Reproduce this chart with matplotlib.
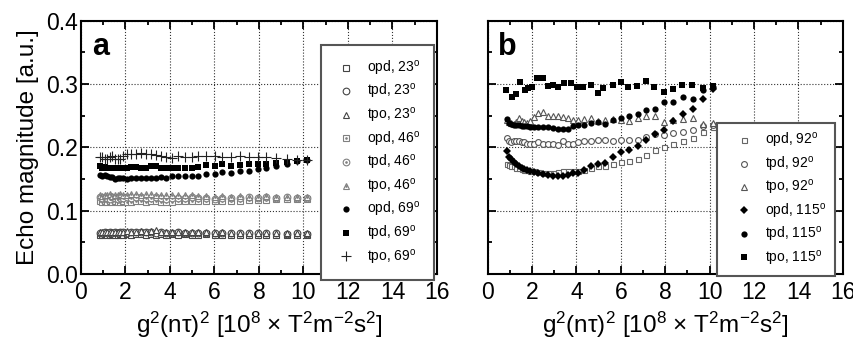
import numpy as np
import matplotlib
matplotlib.use('Agg')
import matplotlib.pyplot as plt
from matplotlib.ticker import MultipleLocator, FormatStrFormatter
from matplotlib.legend_handler import HandlerTuple

plt.rcParams['font.family'] = ['Liberation Sans', 'DejaVu Sans']
plt.rcParams['mathtext.fontset'] = 'custom'
plt.rcParams['mathtext.rm'] = 'Liberation Sans'
plt.rcParams['mathtext.it'] = 'Liberation Sans:italic'

# common x grid  g^2(n tau)^2  [1e8 T^2 m^-2 s^2]
x = [0.85, 0.96, 1.07, 1.18, 1.30, 1.41, 1.53, 1.65, 1.77, 1.91, 2.08, 2.27,
     2.48, 2.70, 2.94, 3.15, 3.38, 3.60, 3.84, 4.07, 4.34, 4.66, 4.97, 5.27,
     5.64, 6.01, 6.36, 6.76, 7.13, 7.53, 7.94, 8.33, 8.78, 9.24, 9.70, 10.15]

# panel a
opd_23 = [0.062, 0.061, 0.063, 0.062, 0.061, 0.063, 0.062, 0.062, 0.063, 0.062, 0.063, 0.062,
          0.063, 0.063, 0.062, 0.063, 0.062, 0.063, 0.062, 0.063, 0.062, 0.063, 0.062, 0.062,
          0.063, 0.062, 0.061, 0.062, 0.062, 0.061, 0.062, 0.062, 0.061, 0.062, 0.062, 0.062]
tpd_23 = [0.065, 0.064, 0.066, 0.065, 0.066, 0.065, 0.066, 0.065, 0.066, 0.066, 0.065, 0.066,
          0.067, 0.066, 0.066, 0.066, 0.065, 0.066, 0.065, 0.065, 0.066, 0.065, 0.065, 0.065,
          0.064, 0.065, 0.064, 0.064, 0.065, 0.064, 0.064, 0.064, 0.064, 0.063, 0.064, 0.063]
tpo_23 = [0.066, 0.066, 0.067, 0.066, 0.067, 0.066, 0.067, 0.066, 0.067, 0.067, 0.068, 0.067,
          0.067, 0.068, 0.067, 0.068, 0.069, 0.067, 0.067, 0.067, 0.066, 0.067, 0.067, 0.066,
          0.066, 0.065, 0.066, 0.065, 0.065, 0.065, 0.065, 0.065, 0.065, 0.064, 0.065, 0.064]
opd_46 = [0.115, 0.114, 0.116, 0.114, 0.115, 0.113, 0.115, 0.114, 0.113, 0.115, 0.114, 0.114,
          0.116, 0.115, 0.114, 0.116, 0.115, 0.114, 0.113, 0.114, 0.115, 0.115, 0.116, 0.116,
          0.116, 0.116, 0.115, 0.116, 0.116, 0.117, 0.117, 0.117, 0.118, 0.118, 0.118, 0.119]
tpd_46 = [0.121, 0.120, 0.121, 0.120, 0.119, 0.121, 0.120, 0.119, 0.120, 0.120, 0.121, 0.120,
          0.121, 0.121, 0.120, 0.120, 0.121, 0.120, 0.119, 0.120, 0.120, 0.120, 0.121, 0.120,
          0.120, 0.119, 0.120, 0.120, 0.120, 0.121, 0.120, 0.121, 0.120, 0.121, 0.120, 0.120]
tpo_46 = [0.124, 0.123, 0.125, 0.124, 0.126, 0.123, 0.125, 0.124, 0.126, 0.124, 0.125, 0.126,
          0.127, 0.125, 0.126, 0.127, 0.125, 0.124, 0.124, 0.125, 0.124, 0.125, 0.124, 0.123,
          0.123, 0.122, 0.123, 0.122, 0.123, 0.122, 0.122, 0.123, 0.122, 0.122, 0.121, 0.122]
opd_69 = [0.156, 0.155, 0.156, 0.154, 0.153, 0.153, 0.150, 0.151, 0.151, 0.152, 0.150, 0.151,
          0.151, 0.152, 0.152, 0.152, 0.152, 0.153, 0.152, 0.154, 0.154, 0.155, 0.154, 0.154,
          0.158, 0.158, 0.161, 0.160, 0.163, 0.163, 0.166, 0.167, 0.171, 0.174, 0.178, 0.180]
tpd_69 = [0.171, 0.168, 0.169, 0.167, 0.168, 0.168, 0.168, 0.168, 0.168, 0.168, 0.168, 0.169,
          0.169, 0.167, 0.168, 0.170, 0.170, 0.168, 0.167, 0.167, 0.168, 0.168, 0.168, 0.169,
          0.172, 0.171, 0.174, 0.171, 0.172, 0.174, 0.173, 0.174, 0.176, 0.177, 0.179, 0.180]
tpo_69 = [0.185, 0.185, 0.182, 0.182, 0.185, 0.186, 0.181, 0.181, 0.182, 0.187, 0.189, 0.190,
          0.190, 0.191, 0.190, 0.190, 0.188, 0.187, 0.185, 0.183, 0.186, 0.184, 0.185, 0.186,
          0.186, 0.187, 0.184, 0.185, 0.186, 0.184, 0.184, 0.185, 0.183, 0.182, 0.180, 0.180]

# panel b
opd_92 = [0.174, 0.172, 0.171, 0.170, 0.168, 0.167, 0.166, 0.165, 0.164, 0.163, 0.162, 0.161,
          0.160, 0.160, 0.160, 0.161, 0.162, 0.163, 0.162, 0.162, 0.165, 0.168, 0.170, 0.171,
          0.173, 0.177, 0.179, 0.182, 0.188, 0.196, 0.200, 0.205, 0.210, 0.214, 0.224, 0.232]
tpd_92 = [0.214, 0.210, 0.209, 0.210, 0.210, 0.210, 0.208, 0.208, 0.206, 0.206, 0.206, 0.208,
          0.206, 0.205, 0.206, 0.204, 0.210, 0.206, 0.206, 0.209, 0.210, 0.210, 0.211, 0.211,
          0.210, 0.211, 0.212, 0.212, 0.217, 0.221, 0.219, 0.222, 0.225, 0.228, 0.233, 0.236]
tpo_92 = [0.243, 0.240, 0.238, 0.237, 0.240, 0.247, 0.242, 0.240, 0.238, 0.242, 0.248, 0.254,
          0.256, 0.250, 0.249, 0.249, 0.248, 0.247, 0.243, 0.243, 0.245, 0.247, 0.241, 0.243,
          0.244, 0.243, 0.242, 0.247, 0.249, 0.249, 0.240, 0.243, 0.245, 0.246, 0.237, 0.239]
opd_115 = [0.195, 0.184, 0.181, 0.177, 0.174, 0.171, 0.168, 0.166, 0.164, 0.163, 0.161, 0.159,
           0.158, 0.157, 0.154, 0.154, 0.155, 0.156, 0.160, 0.160, 0.165, 0.170, 0.173, 0.176,
           0.184, 0.192, 0.196, 0.202, 0.212, 0.221, 0.228, 0.241, 0.252, 0.260, 0.276, 0.292]
tpd_115 = [0.244, 0.238, 0.237, 0.236, 0.235, 0.235, 0.234, 0.233, 0.233, 0.232, 0.232, 0.232,
           0.232, 0.232, 0.231, 0.229, 0.229, 0.229, 0.234, 0.235, 0.236, 0.238, 0.240, 0.237,
           0.243, 0.247, 0.250, 0.253, 0.259, 0.260, 0.271, 0.271, 0.280, 0.276, 0.290, 0.295]
x_tpo_115 = [0.82, 1.08, 1.27, 1.45, 1.68, 1.83, 1.98, 2.24, 2.48, 2.70, 2.93, 3.15, 3.44,
             3.74, 4.04, 4.28, 4.64, 4.98, 5.21, 5.66, 5.99, 6.33, 6.71, 7.13, 7.51, 7.94,
             8.33, 8.77, 9.19, 9.68, 10.14]
tpo_115 = [0.290, 0.279, 0.284, 0.303, 0.291, 0.293, 0.296, 0.310, 0.309, 0.297, 0.298, 0.296,
           0.302, 0.301, 0.295, 0.295, 0.298, 0.286, 0.293, 0.298, 0.303, 0.295, 0.297, 0.305,
           0.296, 0.288, 0.292, 0.298, 0.298, 0.293, 0.297]

fig = plt.figure(figsize=(8.54, 3.49), dpi=100)
ax_a = fig.add_axes([0.0948, 0.2149, 0.4169, 0.7258])
ax_b = fig.add_axes([0.571, 0.2149, 0.416, 0.7258])


def hollow(ax, xs, ys, m, ec, ms, dot=False):
    h, = ax.plot(xs, ys, ls='none', marker=m, ms=ms, mfc='white', mec=ec, mew=0.8)
    if dot:
        d, = ax.plot(xs, ys, ls='none', marker='.', ms=1.8, color=ec)
        return (h, d)
    return h


def filled(ax, xs, ys, m, ms, mew=0.0, color='black'):
    h, = ax.plot(xs, ys, ls='none', marker=m, ms=ms, color=color, mew=mew)
    return h


# panel a
ha = []
ha.append(hollow(ax_a, x, opd_23, 's', '#444444', 4.5))
ha.append(hollow(ax_a, x, tpd_23, 'o', '#444444', 4.8))
ha.append(hollow(ax_a, x, tpo_23, '^', '#444444', 4.3))
ha.append(hollow(ax_a, x, opd_46, 's', '#808080', 4.5, dot=True))
ha.append(hollow(ax_a, x, tpd_46, 'o', '#808080', 4.8, dot=True))
ha.append(hollow(ax_a, x, tpo_46, '^', '#808080', 4.3, dot=True))
ha.append(filled(ax_a, x, opd_69, 'o', 4.5))
ha.append(filled(ax_a, x, tpd_69, 's', 4.0))
ha.append(filled(ax_a, x, tpo_69, '+', 7.0, mew=0.8, color='#222222'))
labels_a = [r'opd, 23$^\mathrm{o}$', r'tpd, 23$^\mathrm{o}$', r'tpo, 23$^\mathrm{o}$',
            r'opd, 46$^\mathrm{o}$', r'tpd, 46$^\mathrm{o}$', r'tpo, 46$^\mathrm{o}$',
            r'opd, 69$^\mathrm{o}$', r'tpd, 69$^\mathrm{o}$', r'tpo, 69$^\mathrm{o}$']

# panel b
hb = []
hb.append(hollow(ax_b, x, opd_92, 's', '#666666', 3.6))
hb.append(hollow(ax_b, x, tpd_92, 'o', '#555555', 4.2))
hb.append(hollow(ax_b, x, tpo_92, '^', '#555555', 4.5))
hb.append(filled(ax_b, x, opd_115, 'D', 4.0))
hb.append(filled(ax_b, x, tpd_115, 'o', 4.5))
hb.append(filled(ax_b, x_tpo_115, tpo_115, 's', 4.5))
labels_b = [r'opd, 92$^\mathrm{o}$', r'tpd, 92$^\mathrm{o}$', r'tpo, 92$^\mathrm{o}$',
            r'opd, 115$^\mathrm{o}$', r'tpd, 115$^\mathrm{o}$', r'tpo, 115$^\mathrm{o}$']

xlabel = r'g$^2$(nτ)$^2$ [10$^8$ × T$^2$m$^{-2}$s$^2$]'

for ax in (ax_a, ax_b):
    ax.set_xlim(0, 16)
    ax.set_ylim(0, 0.4)
    ax.xaxis.set_major_locator(MultipleLocator(2))
    ax.xaxis.set_minor_locator(MultipleLocator(1))
    ax.yaxis.set_major_locator(MultipleLocator(0.1))
    ax.yaxis.set_minor_locator(MultipleLocator(0.05))
    ax.tick_params(which='both', direction='in', top=True, right=True, labelsize=16.5, width=1.3)
    ax.tick_params(which='major', length=5.5)
    ax.tick_params(axis='x', which='major', pad=5)
    ax.tick_params(axis='y', which='major', pad=2)
    ax.tick_params(which='minor', length=3)
    ax.grid(True, which='major', ls=':', color='#333333', lw=0.8)
    for s in ax.spines.values():
        s.set_linewidth(1.5)
    ax.set_xlabel(xlabel, fontsize=17.5, labelpad=4)

ax_a.set_ylabel('Echo magnitude [a.u.]', fontsize=17.5, labelpad=5)
ax_a.yaxis.set_major_formatter(FormatStrFormatter('%.1f'))
ax_b.tick_params(labelleft=False)

ax_a.text(0.03, 0.865, 'a', transform=ax_a.transAxes, fontsize=22, fontweight='bold')
ax_b.text(0.03, 0.865, 'b', transform=ax_b.transAxes, fontsize=22, fontweight='bold')

leg_a = ax_a.legend(ha, labels_a, loc='upper left', bbox_to_anchor=(0.674, 0.904),
                    fontsize=10, borderpad=1.0, labelspacing=0.33, handlelength=1.6,
                    handletextpad=0.71, borderaxespad=0, fancybox=False, framealpha=1,
                    edgecolor='#555555', handler_map={tuple: HandlerTuple(ndivide=1)})
leg_a.get_frame().set_linewidth(1.5)
leg_b = ax_b.legend(hb, labels_b, loc='upper left', bbox_to_anchor=(0.645, 0.596),
                    fontsize=10, borderpad=0.6, labelspacing=0.32, handlelength=2.73,
                    handletextpad=0.17, borderaxespad=0, fancybox=False, framealpha=1,
                    edgecolor='#555555')
leg_b.get_frame().set_linewidth(1.5)

fig.savefig('out.png', dpi=100)
